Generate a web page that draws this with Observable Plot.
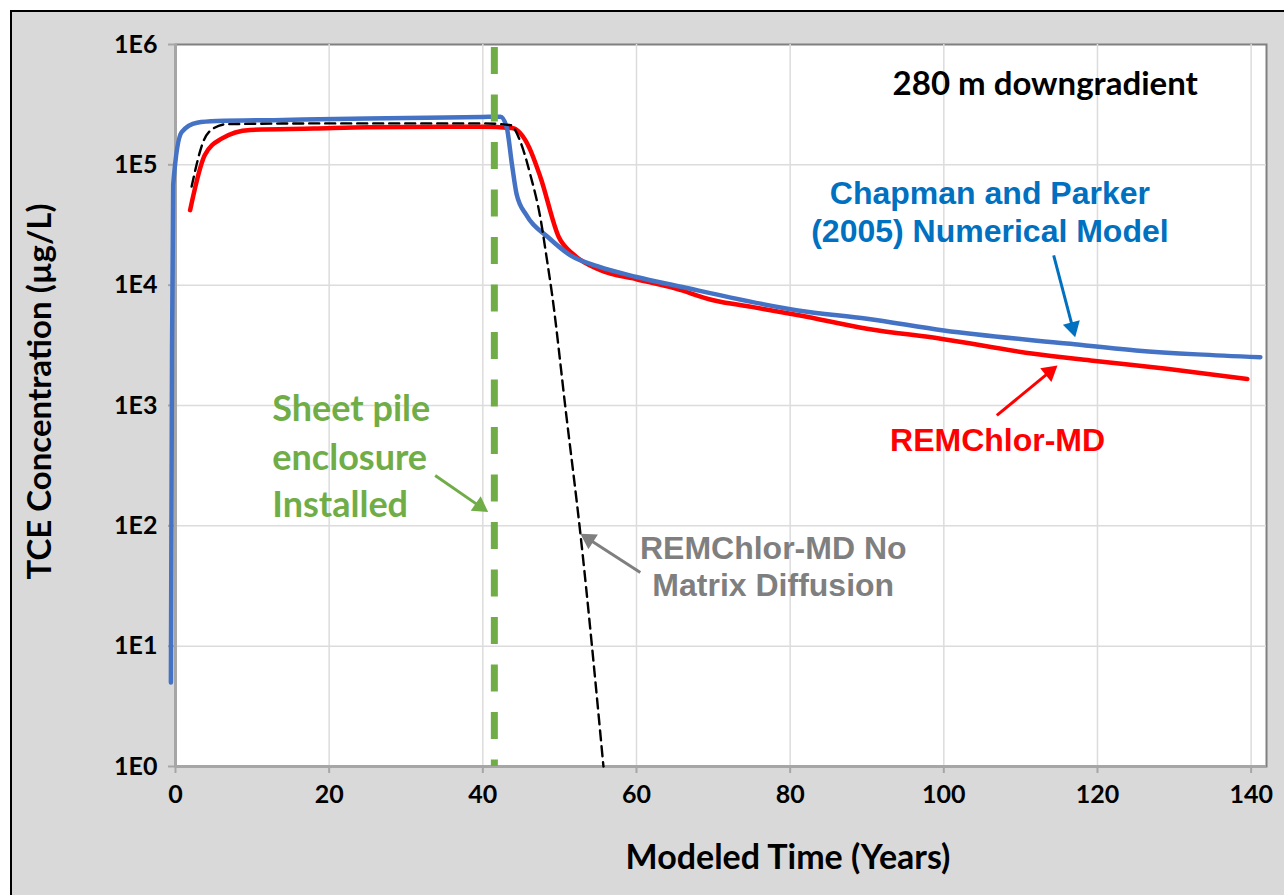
<!DOCTYPE html>
<html>
<head>
<meta charset="utf-8">
<script src="https://cdn.jsdelivr.net/npm/d3@7"></script>
<script src="https://cdn.jsdelivr.net/npm/@observablehq/plot@0.6"></script>
<style>
  body { margin: 0; background: #ffffff; }
  #wrap { position: relative; width: 1284px; height: 895px; overflow: hidden; }
  #bg { position: absolute; left: 10px; top: 10px; width: 1300px; height: 900px;
        background: #d9d9d9; border-left: 2px solid #000; border-top: 2px solid #000; }
  #chart { position: absolute; left: 0; top: 0; }
</style>
</head>
<body>
<div id="wrap"><div id="bg"></div><div id="chart"></div></div>
<script>
// ---- Data ----
// Chapman and Parker (2005) Numerical Model
const blueYears  = [-0.6, -0.45, -0.3, 0.8, 2.8, 5.4, 14, 25, 40, 42.3, 43.1, 43.8, 44.4, 45.7, 48.5, 51.4, 55, 60, 66, 72, 81, 90, 100, 116, 125, 133, 141.2];
const blueValues = [5, 3000, 68000, 187000, 224000, 231000, 236000, 243000, 250000, 251000, 206000, 100000, 57000, 38000, 25000, 17700, 14300, 11700, 9650, 7950, 6170, 5260, 4200, 3270, 2870, 2660, 2520];
// REMChlor-MD
const redYears  = [1.9, 3.8, 6, 9.7, 18, 25, 40, 43.8, 46, 47.5, 49.9, 51.8, 55.3, 60, 65, 70, 75, 81.3, 90, 99.6, 111.7, 119.1, 129, 139.5];
const redValues = [42000, 120000, 165000, 195000, 200000, 205000, 207000, 202000, 141000, 79000, 25000, 18000, 13300, 11200, 9400, 7500, 6600, 5600, 4350, 3590, 2690, 2370, 2020, 1660];
// REMChlor-MD No Matrix Diffusion
const blackYears  = [2.1, 3.6, 4.9, 6.7, 20, 40.1, 43.6, 44.9, 46.2, 47.5, 48.3, 49.0, 50.8, 52.7, 55.7];
const blackValues = [66000, 155000, 200000, 218000, 221000, 221000, 214000, 155000, 82000, 36000, 17000, 8500, 900, 86, 1];
// Sheet pile enclosure installed (year)
const sheetPileYear = [41.5];

// Axis ticks
const xTicks = [0, 20, 40, 60, 80, 100, 120, 140];
const yTicks = [1, 10, 100, 1000, 10000, 100000, 1000000];
const yTickLabels = ["1E0", "1E1", "1E2", "1E3", "1E4", "1E5", "1E6"];

// Titles
const xTitle = "Modeled Time (Years)";
const yTitle = "TCE Concentration (µg/L)";

// Annotations (data units)
const headerText = ["280 m downgradient"];
const headerX = [113.2];
const headerY = [467000];

const blueLabelLines = ["Chapman and Parker", "(2005) Numerical Model"];
const blueLabelX = [106.0, 106.0];
const blueLabelY = [57400, 27700];

const redLabelLines = ["REMChlor-MD"];
const redLabelX = [107.0];
const redLabelY = [508];

const grayLabelLines = ["REMChlor-MD No", "Matrix Diffusion"];
const grayLabelX = [77.8, 77.8];
const grayLabelY = [64.3, 31.6];

const greenLabelLines = ["Sheet pile", "enclosure", "Installed"];
const greenLabelX = [12.6, 12.6, 12.6];
const greenLabelY = [933, 365, 148];

const arrowFromX = [114.3, 106.9, 60.5, 33.8];
const arrowFromY = [17700, 828, 41, 262];
const arrowToX   = [117.1, 114.8, 52.7, 40.7];
const arrowToY   = [3700, 2150, 86, 130];
const arrowColors = ["#0070c0", "#ff0000", "#7f7f7f", "#70ad47"];

// ---- Layout ----
const W = 1284, H = 895;
const mL = 175, mR = 18, mT = 44, mB = 129;
const xDomain = [0, 142], yDomain = [1, 1e6];

// ---- Build tables ----
const zip = (xs, ys) => xs.map((x, i) => ({x, y: ys[i]}));
const blue = zip(blueYears, blueValues);
const red = zip(redYears, redValues);
const black = zip(blackYears, blackValues);
const lbl = (t, xs, ys) => t.map((s, i) => ({text: s, x: xs[i], y: ys[i]}));

// Arrow heads: filled triangles whose tip sits on the arrow end, pointing along the shaft
const xs = d3.scaleLinear(xDomain, [mL, W - mR]);
const ys = d3.scaleLog(yDomain, [H - mB, mT]);
const headR = 6.5;
const tipDist = 2 * Math.sqrt((headR * headR * Math.PI) / (3 * Math.sqrt(3)));
const arrows = arrowFromX.map((x, i) => {
  const px1 = xs(x), py1 = ys(arrowFromY[i]);
  const px2 = xs(arrowToX[i]), py2 = ys(arrowToY[i]);
  const len = Math.hypot(px2 - px1, py2 - py1);
  const ux = (px2 - px1) / len, uy = (py2 - py1) / len;
  const cx = px2 - ux * tipDist, cy = py2 - uy * tipDist;
  return {
    x1: x, y1: arrowFromY[i],
    hx: xs.invert(cx), hy: ys.invert(cy),
    angle: Math.atan2(ux, -uy) * 180 / Math.PI,
    c: arrowColors[i]
  };
});

const calibri = "Lato, 'Open Sans', sans-serif";
const arial = "'Liberation Sans', Arial, sans-serif";

const chart = Plot.plot({
  width: W,
  height: H,
  marginLeft: mL,
  marginRight: mR,
  marginTop: mT,
  marginBottom: mB,
  style: {background: "transparent", fontFamily: calibri, fontWeight: "bold", color: "#000", overflow: "visible"},
  color: {type: "identity"},
  x: {domain: xDomain},
  y: {type: "log", domain: yDomain},
  marks: [
    Plot.frame({fill: "white", stroke: "#808080", strokeWidth: 2}),
    Plot.gridX(xTicks.slice(1), {stroke: "#dcdcdc", strokeOpacity: 1, strokeWidth: 1.5}),
    Plot.gridY(yTicks.slice(1, -1), {stroke: "#dcdcdc", strokeOpacity: 1, strokeWidth: 1.5}),
    Plot.ruleX([0], {stroke: "#a6a6a6", strokeWidth: 3}),
    Plot.ruleY([1], {stroke: "#a6a6a6", strokeWidth: 3}),
    Plot.axisX({ticks: xTicks, tickSize: 7, tickPadding: 12, stroke: "#a6a6a6", strokeWidth: 2,
                fill: "#000", fontSize: 25, fontWeight: "bold", label: null}),
    Plot.axisY({ticks: yTicks, tickFormat: (d) => yTickLabels[yTicks.indexOf(d)], tickSize: 7, tickPadding: 11,
                stroke: "#a6a6a6", strokeWidth: 2, fill: "#000", fontSize: 25, fontWeight: "bold", label: null}),
    Plot.line(red, {x: "x", y: "y", stroke: "#ff0000", strokeWidth: 4.5, curve: "monotone-x"}),
    Plot.line(blue, {x: "x", y: "y", stroke: "#4472c4", strokeWidth: 4.5, curve: "monotone-x"}),
    Plot.line(black, {x: "x", y: "y", stroke: "#000", strokeWidth: 2.4, strokeDasharray: "10,6", curve: "monotone-x"}),
    Plot.ruleX(sheetPileYear, {stroke: "#70ad47", strokeWidth: 7, strokeDasharray: "27,20.5", strokeDashoffset: -3}),
    Plot.link(arrows, {x1: "x1", y1: "y1", x2: "hx", y2: "hy", stroke: "c", strokeWidth: 3}),
    Plot.dot(arrows, {x: "hx", y: "hy", symbol: "triangle", r: headR, rotate: "angle", fill: "c", stroke: null}),
    Plot.text(lbl(headerText, headerX, headerY), {x: "x", y: "y", text: "text", fill: "#000", fontSize: 33, fontFamily: calibri, fontWeight: "bold"}),
    Plot.text(lbl(blueLabelLines, blueLabelX, blueLabelY), {x: "x", y: "y", text: "text", fill: "#0070c0", fontSize: 32, fontFamily: arial, fontWeight: "bold"}),
    Plot.text(lbl(redLabelLines, redLabelX, redLabelY), {x: "x", y: "y", text: "text", fill: "#ff0000", fontSize: 32, fontFamily: arial, fontWeight: "bold"}),
    Plot.text(lbl(grayLabelLines, grayLabelX, grayLabelY), {x: "x", y: "y", text: "text", fill: "#7f7f7f", fontSize: 32, fontFamily: arial, fontWeight: "bold"}),
    Plot.text(lbl(greenLabelLines, greenLabelX, greenLabelY), {x: "x", y: "y", text: "text", fill: "#70ad47", fontSize: 36, fontFamily: calibri, fontWeight: "bold", textAnchor: "start"}),
    Plot.text([xTitle], {frameAnchor: "bottom", textAnchor: "middle", dx: 67, dy: 102, fontSize: 34, fontFamily: calibri, fontWeight: "bold", fill: "#000"}),
    Plot.text([yTitle], {frameAnchor: "left", textAnchor: "middle", rotate: -90, dx: -135, dy: -14, fontSize: 33, fontFamily: calibri, fontWeight: "bold", fill: "#000"})
  ]
});
document.getElementById("chart").appendChild(chart);
</script>
</body>
</html>
